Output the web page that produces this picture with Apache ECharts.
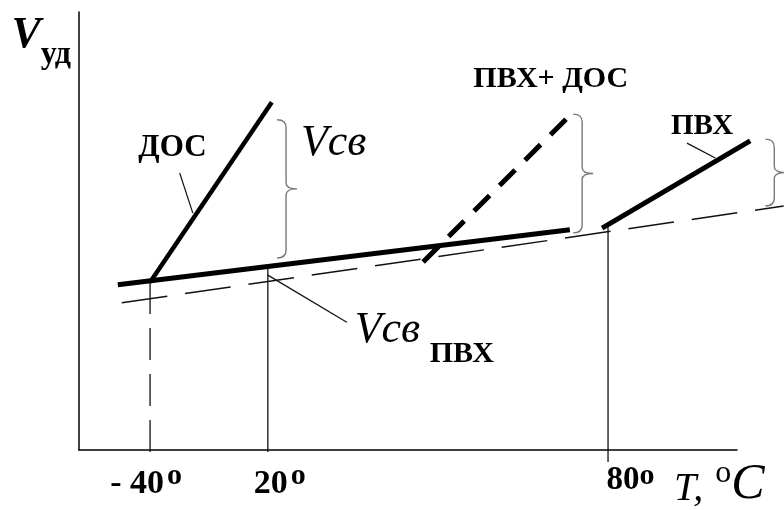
<!DOCTYPE html>
<html><head><meta charset="utf-8">
<script src="https://cdn.jsdelivr.net/npm/echarts@6/dist/echarts.min.js"></script>
<style>html,body{margin:0;padding:0;background:#fff}#c{width:784px;height:510px}</style>
</head><body><div id="c"></div>
<script>
// Schematic units: x 0..100 along the drawn T axis, y 0..100 up the drawn V axis
const tickLabels = ['- 40', '20', '80'];
const tickPositions = [10.8, 28.7, 80.4];
const pvcBase = [[5.9, 38.0], [74.6, 50.5]];
const pvcBaseThin = [[6.5, 33.9], [107.1, 55.9]];
const dosLine = [[10.8, 38.6], [29.3, 79.5]];
const pvcDosLine = [[52.3, 43.2], [75.4, 77.7]];
const pvcLine = [[79.5, 50.9], [102.0, 70.7]];
const dropM40 = [[10.8, 0], [10.8, 38.6]];
const drop20 = [[28.7, 42.3], [28.7, 0]];
const drop80 = [[80.4, 51.1], [80.4, -2.3]];
const leaderDos = [[15.3, 63.4], [17.3, 54.3]];
const leaderPvc = [[92.4, 70.2], [96.7, 66.8]];
const leaderVsv = [[28.7, 40.2], [40.7, 29.5]];
const braces = [[30.1, 75.5, 44.1], [75.1, 76.8, 49.8], [104.3, 71.1, 55.9]];
const noteTexts = ['ДОС', 'Vсв', 'ПВХ+ ДОС', 'ПВХ', 'Vсв', 'ПВХ'];
const notePoints = [[14.2, 69.0], [38.7, 70.1], [71.7, 84.8], [94.7, 74.0], [41.9, 27.7], [53.3, 22.3]];

const FF = '"Liberation Serif","Times New Roman",serif';
const noteStyles = [
  {font: 'bold 31px ' + FF, align: 'center'},
  {font: 'italic 44px ' + FF, align: 'center'},
  {font: 'bold 30px ' + FF, align: 'center'},
  {font: 'bold 29px ' + FF, align: 'center'},
  {font: 'italic 44px ' + FF, align: 'left'},
  {font: 'bold 30px ' + FF, align: 'left'}
];

// layout: drawn axes occupy x 79..737, y 12..452; the data grid extends to the canvas edge
const G = {left: 79, top: 12, axisRight: 737, axisBottom: 452, W: 784, H: 510};
const X_MAX_DATA = 100 * (G.W - G.left) / (G.axisRight - G.left);
const Y_MIN_DATA = -100 * (G.H - G.axisBottom) / (G.axisBottom - G.top);

function seg(data, width, type, color, z) {
  return {type: 'line', data: data, symbol: 'none', clip: false, silent: true,
    xAxisIndex: 1, yAxisIndex: 1,
    lineStyle: {width: width, type: type, color: color, cap: 'butt'}, z: z || 2};
}

const chart = echarts.init(document.getElementById('c'));
chart.setOption({
  backgroundColor: '#fff',
  animation: false,
  grid: [
    {left: G.left, right: G.W - G.axisRight, top: G.top, bottom: G.H - G.axisBottom},
    {left: G.left, right: 0, top: G.top, bottom: 0}
  ],
  xAxis: [{
    type: 'value', min: 0, max: 100, gridIndex: 0,
    axisLine: {show: true, lineStyle: {color: '#000', width: 1.5}},
    axisTick: {show: false}, splitLine: {show: false},
    axisLabel: {
      show: true, customValues: tickPositions, margin: 11,
      formatter: function (val) {
        let i = 0, best = 1e9;
        tickPositions.forEach(function (p, k) { if (Math.abs(p - val) < best) { best = Math.abs(p - val); i = k; } });
        if (i === 0) return '{n|' + tickLabels[0] + '}{d|o}{s40|}';
        if (i === 1) return '{s20|}{n|' + tickLabels[1] + '}{d|o}';
        return '{s80|}{n8|' + tickLabels[2] + '}{d8|o}';
      },
      rich: {
        n: {fontFamily: FF, fontWeight: 'bold', fontSize: 34, lineHeight: 34, padding: [13, 0, 0, 0], color: '#000'},
        d: {fontFamily: FF, fontWeight: 'bold', fontSize: 30, lineHeight: 30, verticalAlign: 'top', padding: [0, 0, 0, 3], color: '#000'},
        n8: {fontFamily: FF, fontWeight: 'bold', fontSize: 33, lineHeight: 33, padding: [6, 0, 0, 0], color: '#000'},
        d8: {fontFamily: FF, fontWeight: 'bold', fontSize: 30, lineHeight: 27, verticalAlign: 'top', color: '#000'},
        s40: {width: 8, height: 10},
        s20: {width: 24, height: 10},
        s80: {width: 45, height: 10}
      }
    },
    name: '{t|T,}{sp|}{d|o}{c|C}', nameLocation: 'end', nameGap: -63, nameMoveOverlap: false,
    nameTextStyle: {
      align: 'left', verticalAlign: 'top', padding: [8, 0, 0, 0],
      fontFamily: FF, fontSize: 40, color: '#000',
      rich: {
        t: {fontFamily: FF, fontStyle: 'italic', fontSize: 40, lineHeight: 40, padding: [12, 0, 0, 0], color: '#000'},
        sp: {width: 12, height: 10},
        d: {fontFamily: FF, fontWeight: 'normal', fontSize: 32, lineHeight: 30, verticalAlign: 'top', color: '#000'},
        c: {fontFamily: FF, fontStyle: 'italic', fontSize: 50, lineHeight: 50, padding: [4, 0, 0, 0], color: '#000'}
      }
    }
  }, {
    type: 'value', min: 0, max: X_MAX_DATA, gridIndex: 1, show: false
  }],
  yAxis: [{
    type: 'value', min: 0, max: 100, gridIndex: 0,
    axisLine: {show: true, lineStyle: {color: '#000', width: 1.5}},
    axisTick: {show: false}, splitLine: {show: false}, axisLabel: {show: false},
    name: '{v|V}{s|уд}', nameLocation: 'end', nameGap: -2, nameMoveOverlap: false,
    nameTextStyle: {
      align: 'right', verticalAlign: 'top', padding: [0, 8, 0, 0],
      rich: {
        v: {fontFamily: FF, fontStyle: 'italic', fontWeight: 'bold', fontSize: 44, lineHeight: 44, verticalAlign: 'top', color: '#000'},
        s: {fontFamily: FF, fontWeight: 'bold', fontSize: 32, lineHeight: 32, padding: [25, 0, 0, 0], verticalAlign: 'top', color: '#000'}
      }
    }
  }, {
    type: 'value', min: Y_MIN_DATA, max: 100, gridIndex: 1, show: false
  }],
  series: [
    seg(pvcBaseThin, 1.5, [46, 18], '#111', 1),
    seg(dropM40, 1.3, [32, 14], '#111', 1),
    seg(drop20, 1.3, 'solid', '#111', 1),
    seg(drop80, 1.3, 'solid', '#111', 1),
    seg(leaderDos, 1.2, 'solid', '#111', 1),
    seg(leaderPvc, 1.2, 'solid', '#111', 1),
    seg(leaderVsv, 1.2, 'solid', '#111', 1),
    seg(pvcBase, 5, 'solid', '#000', 3),
    seg(dosLine, 4.5, 'solid', '#000', 3),
    seg(pvcDosLine, 5, [22, 14], '#000', 3),
    seg(pvcLine, 5, 'solid', '#000', 3),
    {
      type: 'custom', data: braces, silent: true, clip: false, z: 4,
      xAxisIndex: 1, yAxisIndex: 1, encode: {x: 0, y: 1},
      renderItem: function (params, api) {
        const x = api.value(0);
        const pT = api.coord([x, api.value(1)]);
        const pB = api.coord([x, api.value(2)]);
        const x0 = pT[0], t = pT[1], b = pB[1], m = (t + b) / 2, xv = x0 + 9, xt = x0 + 20;
        const d = 'M' + x0 + ' ' + t + ' Q' + xv + ' ' + t + ' ' + xv + ' ' + (t + 8) +
          ' L' + xv + ' ' + (m - 6) + ' Q' + xv + ' ' + m + ' ' + xt + ' ' + m +
          ' Q' + xv + ' ' + m + ' ' + xv + ' ' + (m + 6) + ' L' + xv + ' ' + (b - 8) +
          ' Q' + xv + ' ' + b + ' ' + x0 + ' ' + b;
        return {type: 'path', shape: {pathData: d}, style: {fill: 'none', stroke: '#7a7a7a', lineWidth: 1.4}};
      }
    },
    {
      type: 'custom', silent: true, clip: false, z: 5,
      xAxisIndex: 1, yAxisIndex: 1, encode: {x: 0, y: 1},
      data: notePoints.map(function (p, i) { return [p[0], p[1], i]; }),
      renderItem: function (params, api) {
        const i = api.value(2);
        const p = api.coord([api.value(0), api.value(1)]);
        const st = noteStyles[i];
        return {type: 'text', x: p[0], y: p[1],
          style: {text: noteTexts[i], font: st.font, align: st.align, verticalAlign: 'middle', fill: '#000'}};
      }
    }
  ]
});
</script></body></html>
